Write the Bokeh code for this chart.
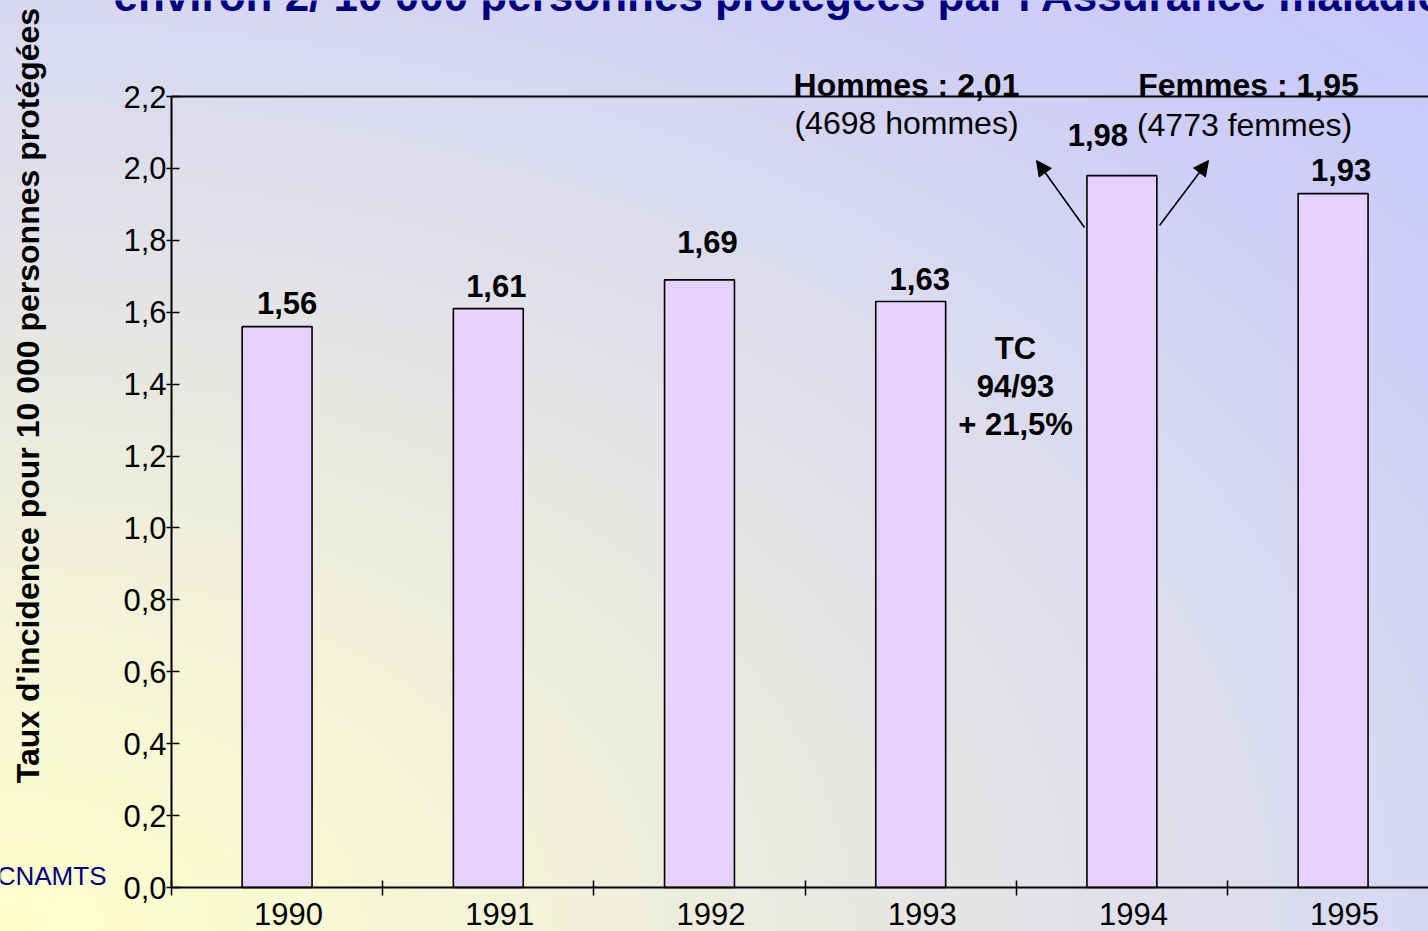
import math
from bokeh.plotting import figure
from bokeh.models import (Range1d, FixedTicker, LinearAxis, Label, Arrow, NormalHead,
                          ColumnDataSource, GlobalInlineStyleSheet)
from bokeh.core.properties import value
from bokeh.embed import file_html
from bokeh.resources import INLINE

# ---------------- data ----------------
years = ["1990", "1991", "1992", "1993", "1994", "1995"]
rates = [1.56, 1.61, 1.69, 1.63, 1.98, 1.93]
ytick_values = [0.0, 0.2, 0.4, 0.6, 0.8, 1.0, 1.2, 1.4, 1.6, 1.8, 2.0, 2.2]
ytick_labels = ["0,0", "0,2", "0,4", "0,6", "0,8", "1,0", "1,2", "1,4", "1,6", "1,8", "2,0", "2,2"]
title_text = "environ 2/ 10 000 personnes protégées par l'Assurance maladie"
ylabel_text = "Taux d'incidence pour 10 000 personnes protégées"
source_text = "CNAMTS"
men_title, men_count = "Hommes : 2,01", "(4698 hommes)"
women_title, women_count = "Femmes : 1,95", "(4773 femmes)"
growth_lines = ["TC", "94/93", "+ 21,5%"]

# label offsets (pixels) for the bar value labels
lab_dx = [10, 8, 8, 9, -24, 8]
lab_dy = [-24, -23, -38, -22, -41, -24]

FONT = "Liberation Sans"
NAVY = "#000080"

# ---------------- layout ----------------
W, H = 1428, 931
OX, OY = 171, 887          # pixel position of the axes origin
CAT_PX = 211.2             # pixels per category
YMAX = 2.2
Y_PX = (OY - 96) / YMAX    # pixels per unit on y
XEND = (W - OX) / CAT_PX
YEAR_LABEL_SHIFT = 11.5 / CAT_PX   # year labels sit slightly right of bar centres

centers = [i + 0.5 for i in range(len(years))]
year_pos = [c + YEAR_LABEL_SHIFT for c in centers]

css = GlobalInlineStyleSheet(css="""
html { background: radial-gradient(ellipse farthest-corner at 0% 100%,
        #FFFFCC 0%, #F7F7D5 18%, #ECECDE 36%, #E2E2E8 52%, #D9D9F1 68%,
        #CFCFF7 82%, #C8C8FC 100%) no-repeat; min-height: 100%; }
body { background: transparent; }
""")

p = figure(width=W, height=H,
           x_range=Range1d(-OX / CAT_PX, XEND),
           y_range=Range1d(-(H - OY) / Y_PX, OY / Y_PX),
           output_backend="svg", toolbar_location=None,
           min_border_left=0, min_border_right=0,
           min_border_top=0, min_border_bottom=0,
           stylesheets=[css])
p.border_fill_color = None
p.background_fill_color = None
p.outline_line_color = None
p.grid.visible = False

# bars
src = ColumnDataSource(dict(x=centers, top=rates, year=years,
                            lab=[f"{v:.2f}".replace(".", ",") for v in rates],
                            dx=lab_dx, dy=lab_dy))
p.vbar(x="x", top="top", width=0.331, source=src,
       fill_color="#E6D1FF", line_color="black", line_width=1.6)
p.text(x="x", y="top", text="lab", x_offset="dx", y_offset="dy", source=src,
       text_align="center", text_baseline="middle",
       text_font=value(FONT), text_font_style="bold", text_font_size="31px",
       text_color="black")

# x axis (fixed at y = 0)
xa = p.xaxis[0]
xa.fixed_location = 0
xa.bounds = (0, XEND)
xa.ticker = FixedTicker(ticks=year_pos, minor_ticks=list(range(len(years) + 1)))
xa.major_label_overrides = {c: y for c, y in zip(year_pos, years)}
xa.major_tick_in = 0
xa.major_tick_out = 0
xa.minor_tick_in = 7
xa.minor_tick_out = 8
xa.minor_tick_line_color = "black"
xa.minor_tick_line_width = 1.5
xa.axis_line_color = "black"
xa.axis_line_width = 2
xa.major_label_standoff = 7
xa.major_label_text_font = FONT
xa.major_label_text_font_size = "31px"
xa.major_label_text_color = "black"

# y axis (fixed at x = 0)
ya = p.yaxis[0]
ya.fixed_location = 0
ya.bounds = (0, YMAX)
ya.ticker = FixedTicker(ticks=ytick_values)
ya.major_label_overrides = {v: l for v, l in zip(ytick_values, ytick_labels)}
ya.major_tick_in = 8
ya.major_tick_out = 5
ya.major_tick_line_color = "black"
ya.major_tick_line_width = 1.5
ya.minor_tick_line_color = None
ya.axis_line_color = "black"
ya.axis_line_width = 2
ya.major_label_standoff = 0
ya.major_label_text_font = FONT
ya.major_label_text_font_size = "31px"
ya.major_label_text_color = "black"

# top frame line
top = LinearAxis(fixed_location=YMAX, bounds=(0, XEND),
                 ticker=FixedTicker(ticks=[]), major_label_text_font_size="0px",
                 major_tick_line_color=None, minor_tick_line_color=None,
                 axis_line_color="black", axis_line_width=2)
p.add_layout(top, "above")

def px2x(px):
    return (px - OX) / CAT_PX

def px2y(py):
    return (OY - py) / Y_PX

def lab(x, y, text, size="32px", bold=True, color="black", align="center",
        baseline="middle", angle=0.0):
    p.add_layout(Label(x=x, y=y, text=text, text_font=FONT, text_font_size=size,
                       text_font_style="bold" if bold else "normal",
                       text_color=color, text_align=align, text_baseline=baseline,
                       angle=angle))

# annotations
lab(px2x(906), px2y(84), men_title)
lab(px2x(906), px2y(122), men_count, bold=False)
lab(px2x(1248), px2y(84), women_title)
lab(px2x(1244), px2y(124), women_count, bold=False)
for txt, py in zip(growth_lines, [348, 386, 424]):
    lab(px2x(1015), px2y(py), txt, size="31px")

# arrows
for (x0, y0, x1, y1) in [(1084, 227, 1036, 160), (1159, 225, 1208, 160)]:
    p.add_layout(Arrow(x_start=px2x(x0), y_start=px2y(y0),
                       x_end=px2x(x1), y_end=px2y(y1),
                       line_color="black", line_width=1.6,
                       end=NormalHead(size=15, fill_color="black", line_color="black")))

# y axis title, source, page title (title is cut by the top edge, as in the original)
lab(px2x(27), px2y(395), ylabel_text, size="32px", angle=math.pi / 2)
lab(px2x(106), px2y(875), source_text, size="26px", bold=False, color=NAVY, align="right")
lab(px2x(113), px2y(-5), title_text, size="44px", color=NAVY, align="left",
    baseline="alphabetic")

open("out.html", "w").write(file_html(p, INLINE))
